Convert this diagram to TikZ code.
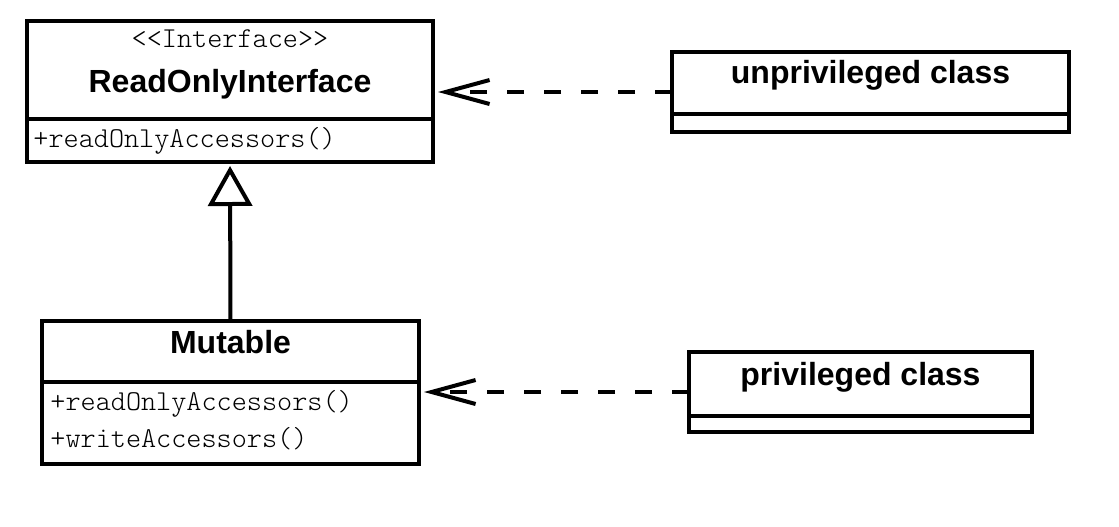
\documentclass[tikz,border=0pt]{standalone}
\usepackage{fontspec}
\newfontfamily\umlsans{Liberation Sans}
\newfontfamily\umlmono{lmmonolt10-regular.otf}[Ligatures=ResetAll]
\usetikzlibrary{positioning}
\usetikzlibrary{calc}
\usetikzlibrary{arrows.meta}
\tikzset{
  compartment/.style={draw,line width=2pt,inner sep=0pt,outer sep=0pt},
  classname/.style={anchor=base,inner sep=0pt,font=\umlsans\bfseries\fontsize{16pt}{18pt}\selectfont},
  member/.style={anchor=base west,inner sep=0pt,font=\umlmono\fontsize{14.4pt}{16pt}\selectfont},
  stereotype/.style={member,anchor=base},
  uses/.style={line width=2pt,dash pattern=on 8.5pt off 10pt,shorten >=2.5pt,
    -{Straight Barb[length=22pt,width=12pt]}},
  inherits/.style={line width=2pt,shorten >=2pt,-{Triangle[open,length=20pt,width=22pt,fill=white]}}
}

\begin{document}
\begin{tikzpicture}
  \useasboundingbox (0,0) rectangle (559.5pt,-263pt);

  % interface and its implementation
  \node (roi)     [compartment,anchor=north west,minimum width=203pt,minimum height=49pt] at (13.5pt,-10.5pt) {};
  \node (roiops)  [compartment,below=0pt of roi,minimum width=203pt,minimum height=21.5pt] {};
  \node (roist)   [stereotype] at ([yshift=-13pt]roi.north)   {<<Interface>>};
  \node (roiname) [classname]  at ([yshift=-35.5pt]roi.north) {ReadOnlyInterface};
  \node (roiop)   [member]     at ([xshift=3pt,yshift=-14pt]roiops.north west) {+readOnlyAccessors()};

  \node (mut)     [compartment,anchor=north west,minimum width=188.5pt,minimum height=30.5pt] at (21pt,-160.5pt) {};
  \node (mutops)  [compartment,below=0pt of mut,minimum width=188.5pt,minimum height=41pt] {};
  \node (mutname) [classname]  at ([yshift=-16pt]mut.north) {Mutable};
  \node (mutro)   [member]     at ([xshift=4pt,yshift=-14pt]mutops.north west)   {+readOnlyAccessors()};
  \node (mutwr)   [member]     at ([xshift=4pt,yshift=-32.5pt]mutops.north west) {+writeAccessors()};

  % clients
  \node (unpriv)     [compartment,anchor=north west,minimum width=198.5pt,minimum height=31pt] at (336pt,-26pt) {};
  \node (unprivops)  [compartment,below=0pt of unpriv,minimum width=198.5pt,minimum height=9pt] {};
  \node (unprivname) [classname] at ([yshift=-15.5pt]unpriv.north) {unprivileged class};

  \node (priv)     [compartment,anchor=north west,minimum width=171.5pt,minimum height=32pt] at (344.5pt,-176pt) {};
  \node (privops)  [compartment,below=0pt of priv,minimum width=171.5pt,minimum height=8pt] {};
  \node (privname) [classname] at ([yshift=-16.5pt]priv.north) {privileged class};

  \coordinate (unprivmid) at ($(unpriv.north west)!.5!(unprivops.south west)$);
  \coordinate (privmid)   at ($(priv.north west)!.5!(privops.south west)$);

  \draw [inherits] (mut.north) -- (roiops.south);
  \draw [uses] (unprivmid) -- (unprivmid -| roi.east);
  \draw [uses] (privmid)   -- (privmid -| mut.east);
\end{tikzpicture}
\end{document}
